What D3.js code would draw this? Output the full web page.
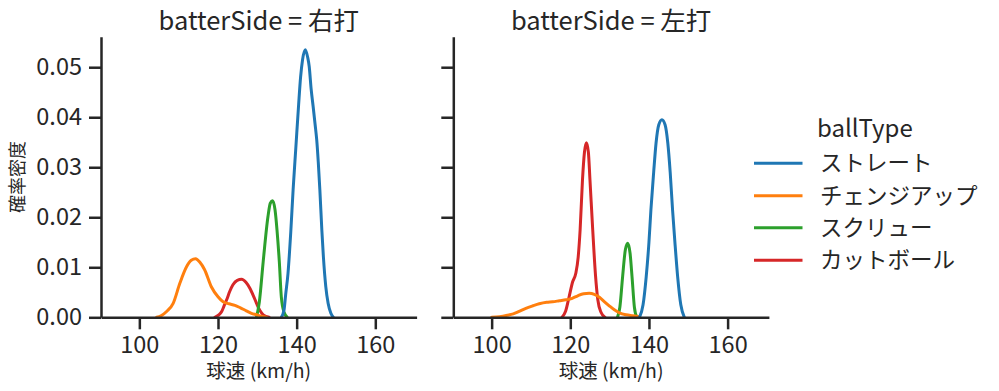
<!DOCTYPE html>
<html>
<head>
<meta charset="utf-8">
<script src="https://cdn.jsdelivr.net/npm/d3@7"></script>
<style>
  html, body { margin: 0; padding: 0; background: #fff; }
  svg { display: block; }
  text { font-family: "Noto Sans CJK JP", "Noto Sans", sans-serif; fill: #262626; }
</style>
</head>
<body>
<svg id="chart" width="999" height="391"></svg>
<script>
// ---- data ----
const panels = ["右打", "左打"];
const ballTypes = ["ストレート", "チェンジアップ", "スクリュー", "カットボール"];
const colors = ["#1f77b4", "#ff7f0e", "#2ca02c", "#d62728"];
const xTicks = [100, 120, 140, 160];
const yTicks = [0, 0.01, 0.02, 0.03, 0.04, 0.05];

// 右打 : [speed, density]
const rightStraight = [[136.1,0],[136.8,0.0015],[137.2,0.0045],[137.8,0.0088],[138.5,0.017],[139.1,0.0255],[139.8,0.034],[140.5,0.0425],[141.0,0.048],[141.5,0.0515],[142.2,0.0535],[142.8,0.052],[143.2,0.0501],[143.7,0.0455],[144.2,0.0421],[144.7,0.0385],[145.1,0.0355],[145.5,0.031],[145.9,0.0255],[146.4,0.0175],[146.8,0.0121],[147.4,0.0062],[148.0,0.0028],[148.7,0.0008],[149.3,0]];
const rightChangeup = [[104.4,0],[105.5,0.0003],[107.0,0.0012],[108.6,0.0028],[110.3,0.0068],[112.0,0.0101],[113.2,0.0114],[114.3,0.0117],[115.4,0.0110],[116.6,0.0095],[118.3,0.0061],[120.0,0.0041],[121.3,0.0031],[122.8,0.0027],[124.3,0.0024],[125.7,0.0019],[127.2,0.0013],[128.5,0.0008],[129.8,0.0005],[131.0,0.0002],[132.3,0]];
const rightScrew = [[129.8,0],[130.5,0.003],[131.5,0.0112],[132.7,0.0201],[133.3,0.0228],[133.9,0.0233],[134.5,0.0215],[135.0,0.0175],[135.6,0.011],[136.1,0.0041],[136.8,0.001],[137.6,0]];
const rightCutter = [[119.2,0],[120.2,0.0005],[120.9,0.0011],[121.5,0.0022],[122.2,0.0035],[123.0,0.0052],[123.8,0.0065],[124.9,0.0074],[126.0,0.0076],[127.1,0.0070],[128.1,0.0058],[129.0,0.0043],[129.8,0.0028],[130.7,0.0013],[131.5,0.0005],[133.0,0]];

// 左打 : [speed, density]
const leftStraight = [[137.6,0],[138.5,0.0025],[139.3,0.0081],[140.0,0.0150],[140.5,0.0215],[141.2,0.029],[141.8,0.0348],[142.5,0.0385],[143.3,0.0395],[144.1,0.0385],[144.8,0.0348],[145.4,0.029],[146.0,0.0215],[146.6,0.015],[147.3,0.0081],[148.1,0.0025],[149.0,0]];
const leftChangeup = [[100,0],[102,0.0001],[104,0.0004],[105.5,0.0007],[107,0.0012],[108.7,0.0018],[110.5,0.0023],[112.1,0.0027],[114,0.0030],[115.5,0.0031],[117.2,0.0033],[118.9,0.0035],[120.5,0.0038],[121.9,0.0043],[123.4,0.0047],[124.8,0.0048],[126.1,0.0046],[127.4,0.0040],[128.7,0.0031],[129.9,0.0023],[131.2,0.0015],[132.5,0.0009],[134.2,0.0005],[135.9,0.0003],[137.6,0.0001]];
const leftScrew = [[132.0,0],[132.6,0.002],[133.3,0.0081],[134.0,0.0135],[134.6,0.0148],[135.2,0.0128],[135.7,0.0081],[136.3,0.002],[136.9,0]];
const leftCutter = [[117.9,0],[118.8,0.0012],[119.7,0.0041],[120.6,0.0071],[121.4,0.0088],[122.0,0.012],[122.5,0.0175],[123.1,0.0275],[123.6,0.033],[124.1,0.0349],[124.6,0.033],[125.0,0.0275],[125.7,0.0175],[126.4,0.0085],[127.0,0.0035],[127.8,0.001],[128.8,0]];

const panelSeries = [
  [rightStraight, rightChangeup, rightScrew, rightCutter],
  [leftStraight, leftChangeup, leftScrew, leftCutter]
];

// ---- layout ----
const svg = d3.select("#chart");
const panelX = [101, 453.3];
const plotW = 315.6, plotTop = 36.7, plotBottom = 317.3;
const ink = "#262626";

const x = d3.scaleLinear().domain([90.25, 170.5]).range([0, plotW]);
const y = d3.scaleLinear().domain([0, 0.0561]).range([plotBottom, plotTop]);

const line = d3.line()
  .x(d => x(d[0]))
  .y(d => y(d[1]))
  .curve(d3.curveMonotoneX);

panels.forEach((name, pi) => {
  const g = svg.append("g").attr("transform", `translate(${panelX[pi]},0)`);

  // curves (seaborn draws hue levels in reverse order)
  for (let i = ballTypes.length - 1; i >= 0; i--) {
    g.append("path")
      .datum(panelSeries[pi][i])
      .attr("d", line)
      .attr("fill", "none")
      .attr("stroke", colors[i])
      .attr("stroke-width", 3)
      .attr("stroke-linejoin", "round")
      .attr("stroke-linecap", "round");
  }

  // x axis
  const xa = g.append("g").attr("transform", `translate(0,${plotBottom})`)
    .call(d3.axisBottom(x).tickValues(xTicks).tickSize(12).tickPadding(7).tickSizeOuter(0));
  // y axis
  const ya = g.append("g")
    .call(d3.axisLeft(y).tickValues(yTicks).tickSize(12).tickPadding(7).tickSizeOuter(0)
      .tickFormat(pi === 0 ? d3.format(".2f") : () => ""));

  [xa, ya].forEach(a => {
    a.select(".domain").attr("stroke", ink).attr("stroke-width", 2.5);
    a.selectAll(".tick line").attr("stroke", ink).attr("stroke-width", 2.5);
    a.selectAll(".tick text").attr("font-size", 23.5).attr("fill", ink)
      .style("font-family", '"Noto Sans CJK JP", "Noto Sans", sans-serif');
  });

  // panel title
  g.append("text")
    .attr("x", plotW / 2).attr("y", 30)
    .attr("text-anchor", "middle")
    .attr("font-size", 25.5)
    .text(`batterSide = ${name}`);

  // x label
  g.append("text")
    .attr("x", plotW / 2).attr("y", 378)
    .attr("text-anchor", "middle")
    .attr("font-size", 19.5)
    .text("球速 (km/h)");
});

// y label
svg.append("text")
  .attr("transform", `translate(24,${(plotTop + plotBottom) / 2}) rotate(-90)`)
  .attr("text-anchor", "middle")
  .attr("font-size", 18)
  .text("確率密度");

// legend
const lg = svg.append("g");
lg.append("text").attr("x", 817).attr("y", 137).attr("font-size", 24).text("ballType");
const legendY = [163.3, 195.7, 227.7, 260.3];
ballTypes.forEach((t, i) => {
  lg.append("line")
    .attr("x1", 754).attr("x2", 802.5)
    .attr("y1", legendY[i]).attr("y2", legendY[i])
    .attr("stroke", colors[i]).attr("stroke-width", 3);
  lg.append("text")
    .attr("x", 820).attr("y", legendY[i] + 8)
    .attr("font-size", 22.5)
    .text(t);
});
</script>
</body>
</html>
